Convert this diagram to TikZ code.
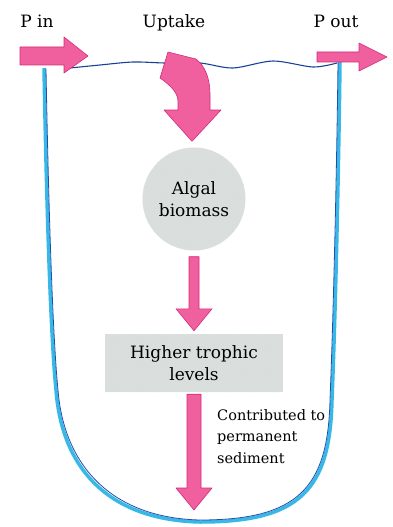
\documentclass[tikz,border=0pt]{standalone}
\usepackage{fontspec}
\setmainfont{DejaVu Serif}
\usepackage{tikz}
\usetikzlibrary{calc,patterns}
\definecolor{pinkfill}{RGB}{240,96,158}
\definecolor{pinkline}{RGB}{212,42,122}
\definecolor{wallcyan}{RGB}{56,184,230}
\definecolor{wallblue}{RGB}{34,78,170}
\definecolor{waterblue}{RGB}{24,66,150}
\definecolor{halftone}{RGB}{218,224,222}
\newcommand{\bigfont}{\fontsize{17}{22}\selectfont}
\newcommand{\smallfont}{\fontsize{14.5}{21.5}\selectfont}

\begin{document}
\begin{tikzpicture}[x = 1pt, y = -1pt,
  flow/.style = {draw = pinkline, fill = pinkfill, line width = 0.6pt, line join = round},
  screened/.style = {fill = halftone, postaction = {pattern = crosshatch dots, pattern color = black!15}}]
\useasboundingbox(0,0)rectangle(393,527);
% labels
\node[anchor = base, font = \bigfont](pin)at(37,28){P in};
\node[anchor = base, font = \bigfont](uptake)at(174,28){Uptake};
\node[anchor = base, font = \bigfont](pout)at(336,28){P out};
% basin
\path[draw = wallcyan, line width = 3.5pt](44,68) .. controls (46,180) and (50,330) .. (56,390) .. controls (62,470) and (110,520) .. (200,522) .. controls (300,522) and (330,490) .. (332,400) .. controls (336,300) and (339,150) .. (340,62);
\path[draw = wallblue, line width = 0.8pt](46,69) .. controls (48,180) and (52,330) .. (58,390) .. controls (64,466) and (112,518) .. (200,520) .. controls (298,520) and (328,488) .. (330,400) .. controls (334,300) and (337,150) .. (338,62);
% water surface
\path[draw = waterblue, line width = 1.1pt]plot[smooth]coordinates{(70,68) (100,65) (133,62) (165,63) (200,63) (233,68) (273,61) (313,67) (337,63)};
% pools
\node[screened, circle, minimum size = 103pt, inner sep = 0pt, align = center, font = \bigfont](algal)at(194,199){Algal\\biomass};
\node[screened, minimum width = 178pt, minimum height = 58pt, align = center, font = \bigfont](higher)at(194,363){Higher trophic\\levels};
\node[anchor = north west, inner sep = 0pt, align = left, font = \smallfont](sediment)at(217,409){Contributed to\\permanent\\sediment};
% P in
\coordinate(i1)at(20,56);
\coordinate(i2)at(88,56);
\path[flow]($(i1)+(0,-9)$)to($(i2)+(-24,-9)$)to($(i2)+(-24,-19)$)to(i2)to($(i2)+(-24,17)$)to($(i2)+(-24,9)$)to($(i1)+(0,9)$)to cycle;
% P out
\coordinate(o1)at(317,57);
\coordinate(o2)at(387,57);
\path[flow]($(o1)+(0,-5)$)to($(o2)+(-28,-5)$)to($(o2)+(-28,-14)$)to(o2)to($(o2)+(-28,14)$)to($(o2)+(-28,5)$)to($(o1)+(0,5)$)to cycle;
% uptake
\coordinate(u2)at($(algal.north)+(-2,-6)$);
\path[flow](168,52)to(196,59) .. controls (205,66) and (210,78) .. (210,95)to(210,110)to(221,110)to(u2)to(164,110)to(178,110)to(178,102) .. controls (178,94) and (173,87) .. (160,78)to cycle;
% algal biomass to higher levels
\coordinate(a1)at($(algal.south)+(0,6)$);
\coordinate(a2)at($(higher.north)+(0,-3)$);
\path[flow]($(a1)+(-5,0)$)to($(a1)+(5,0)$)to($(a2)+(5,-22)$)to($(a2)+(18,-22)$)to(a2)to($(a2)+(-18,-22)$)to($(a2)+(-5,-22)$)to cycle;
% higher levels to sediment
\coordinate(s1)at($(higher.south)+(0,2)$);
\coordinate(bed)at(194,510);
\path[flow]($(s1)+(-7,0)$)to($(s1)+(7,0)$)to($(bed)+(7,-22)$)to($(bed)+(18,-22)$)to(bed)to($(bed)+(-18,-22)$)to($(bed)+(-7,-22)$)to cycle;
\end{tikzpicture}
\end{document}
